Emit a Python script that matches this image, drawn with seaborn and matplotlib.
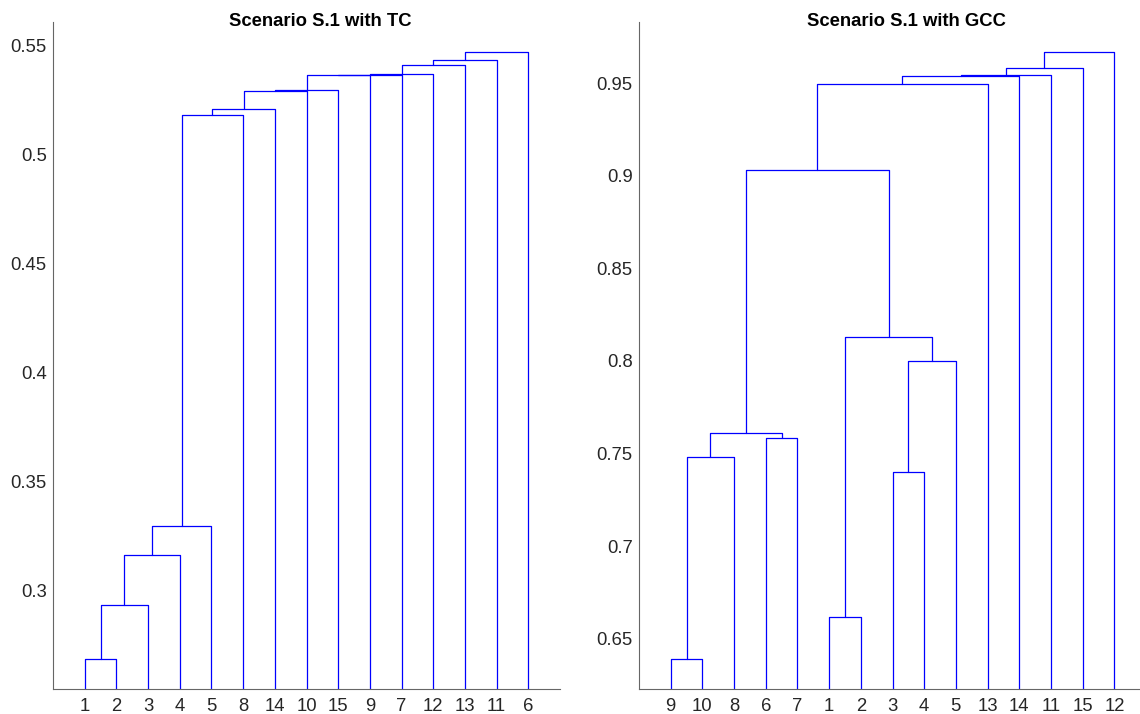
import matplotlib
matplotlib.use("Agg")
import matplotlib.pyplot as plt
import pandas as pd
import seaborn as sns

# Leaf order along the x axis and merges (cluster "mK" = K-th merge)
tc_leaves = [1, 2, 3, 4, 5, 8, 14, 10, 15, 9, 7, 12, 13, 11, 6]
tc_pairs = [(1, 2), ("m1", 3), ("m2", 4), ("m3", 5), ("m4", 8), ("m5", 14), ("m6", 10),
            ("m7", 15), ("m8", 9), ("m9", 7), ("m10", 12), ("m11", 13), ("m12", 11), ("m13", 6)]
tc_heights = [0.2686, 0.2933, 0.3166, 0.3295, 0.5184, 0.5213, 0.5295,
              0.5298, 0.5366, 0.5369, 0.5372, 0.5413, 0.5435, 0.5471]
tc_yticks = [0.3, 0.35, 0.4, 0.45, 0.5, 0.55]

gcc_leaves = [9, 10, 8, 6, 7, 1, 2, 3, 4, 5, 13, 14, 11, 15, 12]
gcc_pairs = [(9, 10), ("m1", 8), (6, 7), ("m2", "m3"), (1, 2), (3, 4), ("m6", 5),
             ("m5", "m7"), ("m4", "m8"), ("m9", 13), ("m10", 14), ("m11", 11), ("m12", 15), ("m13", 12)]
gcc_heights = [0.6392, 0.7480, 0.7582, 0.7611, 0.6617, 0.7400, 0.8002,
               0.8129, 0.9031, 0.9495, 0.9540, 0.9543, 0.9583, 0.9668]
gcc_yticks = [0.65, 0.7, 0.75, 0.8, 0.85, 0.9, 0.95]


def link_table(leaves, pairs, heights):
    # U-shaped link for every merge, leaves sit at 1..n
    pos = {leaf: i + 1 for i, leaf in enumerate(leaves)}
    top = {leaf: 0.0 for leaf in leaves}
    rows = []
    for k, ((a, b), h) in enumerate(zip(pairs, heights), start=1):
        rows += [(k, pos[a], top[a]), (k, pos[a], h), (k, pos[b], h), (k, pos[b], top[b])]
        pos[f"m{k}"] = (pos[a] + pos[b]) / 2
        top[f"m{k}"] = h
    return pd.DataFrame(rows, columns=["link", "x", "y"])


sns.set_style("white")
plt.rcParams["font.family"] = ["Liberation Sans", "DejaVu Sans"]

fig = plt.figure(figsize=(11.4, 7.14), dpi=100)
ax1 = fig.add_axes([53 / 1140, 25 / 714, 507 / 1140, 667 / 714])
ax2 = fig.add_axes([639 / 1140, 25 / 714, 507 / 1140, 667 / 714])

panels = [
    (ax1, tc_leaves, tc_pairs, tc_heights, tc_yticks, (0.2549, 0.561), "Scenario S.1 with TC"),
    (ax2, gcc_leaves, gcc_pairs, gcc_heights, gcc_yticks, (0.6229, 0.983), "Scenario S.1 with GCC"),
]

for ax, leaves, pairs, heights, yticks, ylim, title in panels:
    df = link_table(leaves, pairs, heights)
    sns.lineplot(data=df, x="x", y="y", units="link", estimator=None, sort=False,
                 color="#0000ff", linewidth=0.9, ax=ax)
    ax.set_xlim(0, len(leaves) + 1)
    ax.set_ylim(*ylim)
    ax.set_xticks(range(1, len(leaves) + 1))
    ax.set_xticklabels([str(v) for v in leaves])
    ax.set_yticks(yticks)
    ax.set_yticklabels([f"{v:g}" for v in yticks])
    ax.set_xlabel("")
    ax.set_ylabel("")
    sns.despine(ax=ax)
    for side in ["left", "bottom"]:
        ax.spines[side].set_color("#666666")
        ax.spines[side].set_linewidth(0.8)
    ax.tick_params(axis="x", direction="in", length=3, width=0.8, color="#666666",
                   pad=6.3, labelsize=13.3, labelcolor="#262626")
    ax.tick_params(axis="y", direction="out", length=2.6, width=0.8, color="#666666",
                   pad=1.9, labelsize=13.3, labelcolor="#262626")
    ax.text(0.528, 1.0, title, transform=ax.transAxes, ha="center", va="center",
            fontsize=13.3, fontweight="bold", color="black")

fig.savefig("out.png", dpi=100)
